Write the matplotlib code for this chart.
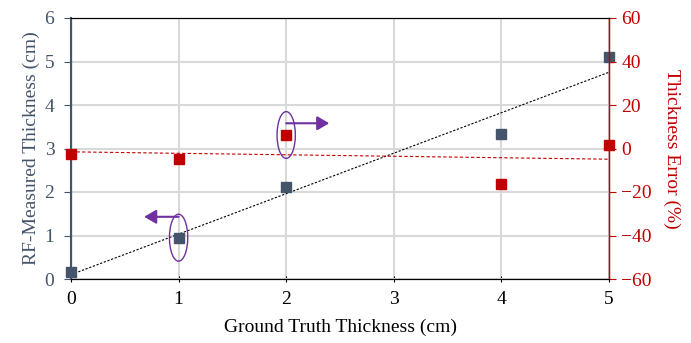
import numpy as np
from matplotlib import pyplot as plt
from matplotlib.patches import Ellipse

plt.rcParams['font.family'] = ['Liberation Serif', 'DejaVu Serif']

truth = [0, 1, 2, 4, 5]                    # ground truth thickness, cm
measured = [0.17, 0.95, 2.12, 3.33, 5.1]   # RF-measured thickness, cm
error = [-2.5, -4.8, 6.2, -16.3, 1.6]      # thickness error, %

slate = '#44546a'
red = '#c00000'
purple = '#7030a0'

fig = plt.figure(figsize=(6.91, 3.43), dpi=100)
ax1 = fig.add_axes([71 / 691, 1 - 279 / 343, 538 / 691, 261 / 343])
ax2 = ax1.twinx()

ax1.set_xlim(0, 5)
ax1.set_ylim(0, 6)
ax2.set_ylim(-60, 60)
ax1.set_xticks(range(6))
ax1.set_yticks(range(7))
ax2.set_yticks(range(-60, 61, 20))

ax1.grid(True, color='#d9d9d9', lw=1.5)
ax1.set_axisbelow(True)

# trend lines
p1 = np.polyfit(truth, measured, 1)
p2 = np.polyfit(truth, error, 1)
xs = np.array([0, 5])
ax1.plot(xs, np.polyval(p1, xs), ls=(0, (2, 1.5)), color='black', lw=0.8, zorder=3)
ax2.plot(xs, np.polyval(p2, xs), ls=(0, (3, 2)), color=red, lw=0.8, zorder=3)

ax1.plot(truth, measured, 's', color=slate, ms=7, zorder=4, clip_on=False)
ax2.plot(truth, error, 's', color=red, ms=7, zorder=4, clip_on=False)

# annotations
arrow = dict(arrowstyle='-|>,head_length=0.6,head_width=0.35',
             color=purple, lw=1.5, mutation_scale=12, shrinkA=0, shrinkB=0)
ax1.add_patch(Ellipse((1, 0.95), 0.17, 1.08, fill=False, ec=purple, lw=1, zorder=5))
ax1.annotate('', xy=(0.68, 1.43), xytext=(1.0, 1.43), arrowprops=arrow)
ax2.add_patch(Ellipse((2, 6.2), 0.17, 21.5, fill=False, ec=purple, lw=1, zorder=5))
ax2.annotate('', xy=(2.4, 11.6), xytext=(2.0, 11.6), arrowprops=arrow)

for s in ['top', 'bottom']:
    ax1.spines[s].set_color('black')
    ax2.spines[s].set_color('black')
ax2.spines['left'].set_color(slate)
ax2.spines['left'].set_linewidth(1.5)
ax2.spines['right'].set_color(red)
ax2.spines['right'].set_linewidth(1)

ax1.tick_params(axis='y', colors=slate, labelsize=14, length=5, direction='out', pad=7)
ax1.tick_params(axis='x', colors='black', labelsize=14, length=5, direction='inout', pad=6)
ax2.tick_params(axis='y', colors=red, labelsize=14, length=5, direction='out', pad=4)

ax1.set_xlabel('Ground Truth Thickness (cm)', fontsize=14, labelpad=8)
ax1.set_ylabel('RF-Measured Thickness (cm)', fontsize=14, color=slate, labelpad=3)
ax2.set_ylabel('Thickness Error (%)', fontsize=14, color=red, rotation=270, labelpad=20)

fig.savefig('out.png', dpi=100)
